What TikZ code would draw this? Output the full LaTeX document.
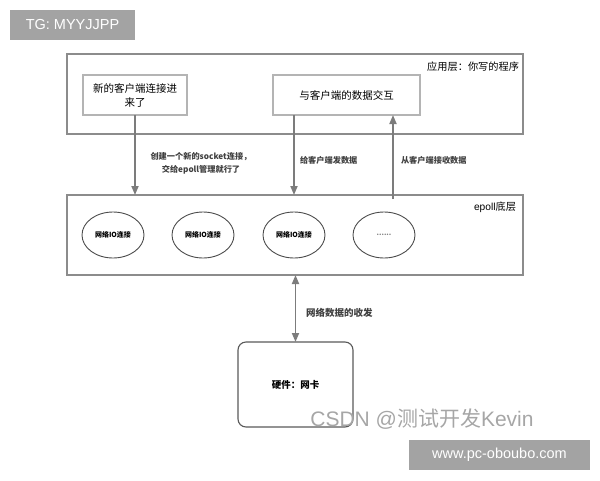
\documentclass[tikz,border=0pt]{standalone}
\usepackage{fontspec}
\setmainfont{Liberation Sans}
\newfontfamily\cjk{Noto Sans CJK SC}
\usetikzlibrary{arrows.meta,shapes.geometric}
\definecolor{IBcolLine}{HTML}{8c8c8c}
\definecolor{IBcolBox}{HTML}{b4b4b4}
\definecolor{IBcolArrow}{HTML}{7c7c7c}
\definecolor{IBcolMark}{HTML}{a3a3a3}

\begin{document}
\begin{tikzpicture}[y=1pt, x=1pt, yscale=-1, inner sep=0pt, outer sep=0pt, font=\cjk,
    layerbox/.style={draw=IBcolLine, line width=1.3pt},
    stepbox/.style={draw=IBcolBox, line width=1.1pt, align=center, font=\cjk\fontsize{10.5}{14}\selectfont},
    ioconn/.style={ellipse, draw=black!70, line width=0.9pt, minimum width=62, minimum height=46, font=\cjk\bfseries\fontsize{7}{8}\selectfont},
    flow/.style={draw=IBcolArrow, line width=1.8pt, -{Triangle[length=9pt,width=7pt]}},
    flowlabel/.style={font=\cjk\bfseries\fontsize{8.2}{12.5}\selectfont, text=black!75},
    tagbox/.style={fill=IBcolMark, text=white, font=\fontsize{14.5}{16}\selectfont}]
  \useasboundingbox (0,0) rectangle (600,480);

  % watermark boxes
  \node[tagbox, minimum width=125, minimum height=30] (tg) at (72.5,25) {TG: MYYJJPP};
  \node[tagbox, minimum width=181, minimum height=30] (site) at (499.5,455) {www.pc-oboubo.com};

  % application layer
  \node[layerbox, minimum width=456, minimum height=80] (app) at (295,94) {};
  \node[anchor=east, font=\cjk\fontsize{10.2}{12}\selectfont] (applabel) at (519,67) {应用层：你写的程序};
  \node[stepbox, minimum width=104, minimum height=40] (newconn) at (135,95) {新的客户端连接进\\来了};
  \node[stepbox, minimum width=147, minimum height=40] (talk) at (346.5,95) {与客户端的数据交互};

  % epoll layer
  \node[layerbox, minimum width=456, minimum height=80] (epoll) at (295,235) {};
  \node[anchor=east, font=\fontsize{10.2}{12}\selectfont] (epolllabel) at (516,207) {epoll\cjk 底层};
  \node[ioconn] (io1) at (113,235) {网络IO连接};
  \node[ioconn] (io2) at (203,235) {网络IO连接};
  \node[ioconn] (io3) at (294,235) {网络IO连接};
  \node[ioconn] (io4) at (384,235) {\textcolor{black!50}{......}};

  % hardware
  \node[draw=black!65, line width=1.1pt, rounded corners=8pt, minimum width=115, minimum height=85,
    font=\cjk\bfseries\fontsize{9.5}{12}\selectfont] (nic) at (295.5,384.5) {硬件：网卡};

  % arrows between layers
  \draw[flow] (newconn.south) -- (newconn.south |- epoll.north);
  \draw[flow] (io3 |- talk.south) -- (io3 |- epoll.north);
  \coordinate (recv) at (393,199);
  \draw[flow] (recv) -- (recv |- talk.south);
  \draw[flow, {Triangle[length=9pt,width=7pt]}-{Triangle[length=9pt,width=7pt]}] (nic.north |- epoll.south) -- (nic.north);

  \node[flowlabel, align=center] (createlabel) at (201,163.5) {创建一个新的socket连接，\\交给epoll管理就行了};
  \node[flowlabel, anchor=west] (sendlabel) at (300,160) {给客户端发数据};
  \node[flowlabel, anchor=west] (recvlabel) at (401,160) {从客户端接收数据};
  \node[flowlabel, anchor=west, font=\cjk\bfseries\fontsize{9.5}{12}\selectfont] (nicflow) at (306,313) {网络数据的收发};

  % watermark text
  \node[text=black!35, font=\fontsize{21}{23}\selectfont] (csdn) at (422,419) {CSDN @\cjk 测试开发\normalfont Kevin};
\end{tikzpicture}
\end{document}
